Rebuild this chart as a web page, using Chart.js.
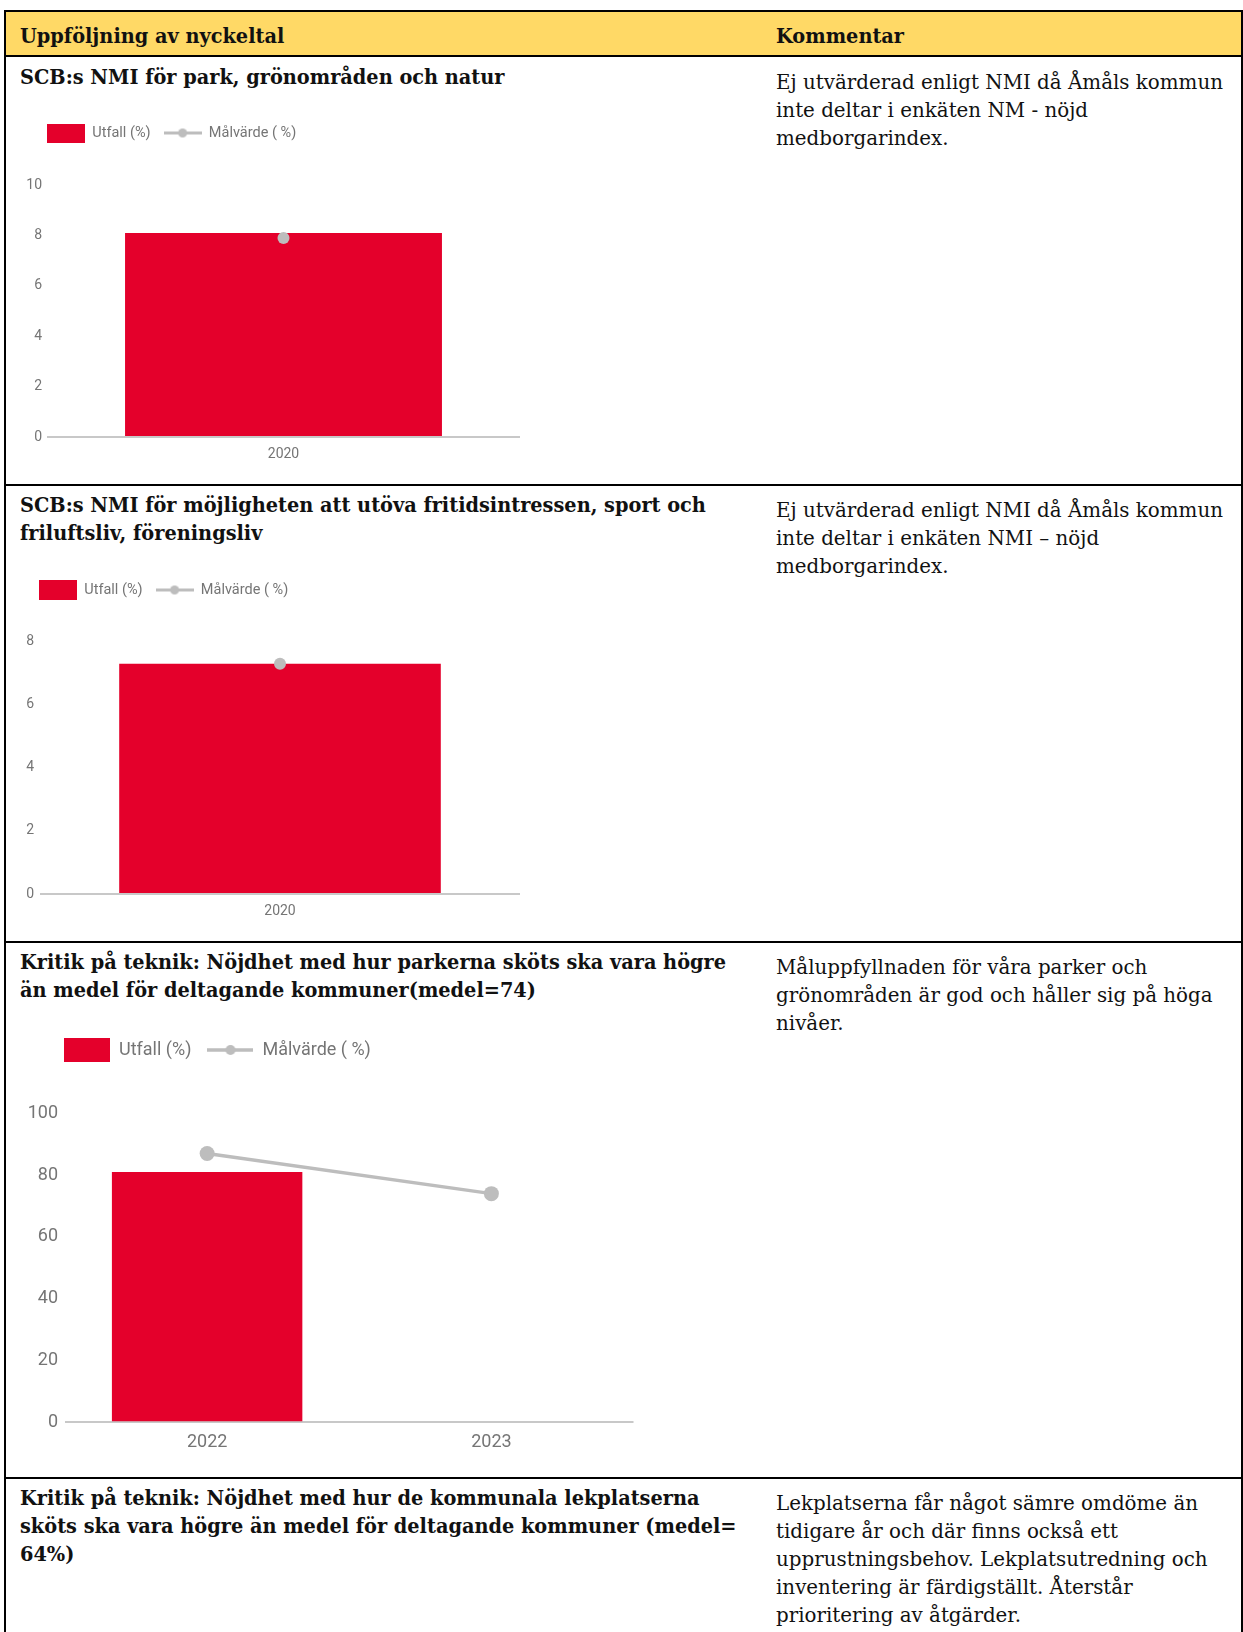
<!DOCTYPE html>
<html lang="sv">
<head>
<meta charset="utf-8">
<title>Uppföljning av nyckeltal</title>
<script src="https://cdn.jsdelivr.net/npm/chart.js@4.4.1/dist/chart.umd.min.js"></script>
<style>
  html, body { margin: 0; padding: 0; background: #fff; }
  body { width: 1243px; height: 1632px; position: relative; overflow: hidden; font-family: "DejaVu Serif", serif; color: #111; }
  .rule { position: absolute; background: #000; }
  .head { position: absolute; left: 6px; top: 12px; width: 1235px; height: 43px; background: #ffd966; }
  .txt { position: absolute; white-space: nowrap; font-size: 20px; line-height: 28.1px; transform-origin: 0 0; }
  .b { font-weight: bold; }
  canvas { position: absolute; }
</style>
</head>
<body>
<div class="head"></div>
<div class="rule" style="left:4px;top:10px;width:1239px;height:2px"></div>
<div class="rule" style="left:4px;top:10px;width:2px;height:1622px"></div>
<div class="rule" style="left:1241px;top:10px;width:2px;height:1622px"></div>
<div class="rule" style="left:4px;top:55px;width:1239px;height:2px"></div>
<div class="rule" style="left:4px;top:484px;width:1239px;height:2px"></div>
<div class="rule" style="left:4px;top:941px;width:1239px;height:2px"></div>
<div class="rule" style="left:4px;top:1477px;width:1239px;height:2px"></div>

<div class="txt b" style="left:20px;top:21.5px">Uppföljning av nyckeltal</div>
<div class="txt b" style="left:776px;top:21.5px">Kommentar</div>

<div class="txt b" style="left:20px;top:63px">SCB:s NMI för park, grönområden och natur</div>
<div class="txt r" style="left:776px;top:68px">Ej utvärderad enligt NMI då Åmåls kommun<br>inte deltar i enkäten NM - nöjd<br>medborgarindex.</div>

<div class="txt b" style="left:20px;top:491px">SCB:s NMI för möjligheten att utöva fritidsintressen, sport och<br>friluftsliv, föreningsliv</div>
<div class="txt r" style="left:776px;top:496px">Ej utvärderad enligt NMI då Åmåls kommun<br>inte deltar i enkäten NMI – nöjd<br>medborgarindex.</div>

<div class="txt b" style="left:20px;top:948px">Kritik på teknik: Nöjdhet med hur parkerna sköts ska vara högre<br>än medel för deltagande kommuner(medel=74)</div>
<div class="txt r" style="left:776px;top:953px">Måluppfyllnaden för våra parker och<br>grönområden är god och håller sig på höga<br>nivåer.</div>

<div class="txt b" style="left:20px;top:1484px">Kritik på teknik: Nöjdhet med hur de kommunala lekplatserna<br>sköts ska vara högre än medel för deltagande kommuner (medel=<br>64%)</div>
<div class="txt r" style="left:776px;top:1489px">Lekplatserna får något sämre omdöme än<br>tidigare år och där finns också ett<br>upprustningsbehov. Lekplatsutredning och<br>inventering är färdigställt. Återstår<br>prioritering av åtgärder.</div>

<canvas id="chart1"></canvas>
<canvas id="chart2"></canvas>
<canvas id="chart3"></canvas>

<script>
// data
const seriesNames = ['Utfall (%)', 'Målvärde ( %)'];

const years1 = ['2020'];
const utfall1 = [8.1];
const malvarde1 = [7.9];
const yTicks1 = [0, 2, 4, 6, 8, 10];

const years2 = ['2020'];
const utfall2 = [7.3];
const malvarde2 = [7.3];
const yTicks2 = [0, 2, 4, 6, 8];

const years3 = ['2022', '2023'];
const utfall3 = [81, null];
const malvarde3 = [87, 74];
const yTicks3 = [0, 20, 40, 60, 80, 100];

const RED = '#e4002b';
const GREY = '#bdbdbd';
const AXIS_TEXT = '#757575';

// squeeze the serif text to the widths of the reference lines
function fitText(selector, sample, target) {
  const el = document.querySelector(selector);
  const cs = getComputedStyle(el);
  const g = document.createElement('canvas').getContext('2d');
  g.font = cs.fontWeight + ' ' + cs.fontSize + ' ' + cs.fontFamily;
  const k = target / g.measureText(sample).width;
  document.querySelectorAll(selector).forEach(e => { e.style.transform = 'scaleX(' + k + ')'; });
}
fitText('.txt.b', 'Kritik på teknik: Nöjdhet med hur parkerna sköts ska vara högre', 706);
fitText('.txt.r', 'Ej utvärderad enligt NMI då Åmåls kommun', 447);

// legend icons: red box and grey line with a dot
function boxIcon(w, h) {
  const c = document.createElement('canvas');
  c.width = w; c.height = h;
  const g = c.getContext('2d');
  g.fillStyle = RED;
  g.fillRect(0, 0, w, h);
  return c;
}

function lineIcon(w, r, lw) {
  const c = document.createElement('canvas');
  c.width = w; c.height = Math.ceil(r * 2 + 2);
  const g = c.getContext('2d');
  const mid = c.height / 2;
  g.strokeStyle = GREY;
  g.lineWidth = lw;
  g.beginPath();
  g.moveTo(0, mid);
  g.lineTo(w, mid);
  g.stroke();
  g.fillStyle = GREY;
  g.beginPath();
  g.arc(w / 2, mid, r, 0, Math.PI * 2);
  g.fill();
  return c;
}

function makeChart(id, cats, bars, targets, ticks, lay) {
  const canvas = document.getElementById(id);
  canvas.width = lay.w;
  canvas.height = lay.h;
  canvas.style.left = lay.x + 'px';
  canvas.style.top = lay.y + 'px';

  const icons = [boxIcon(lay.box[0], lay.box[1]), lineIcon(lay.box[0], lay.dot, lay.iconLine)];
  const tickFont = { family: 'Roboto', size: lay.tickFont };

  return new Chart(canvas, {
    type: 'bar',
    data: {
      labels: cats,
      datasets: [
        {
          label: seriesNames[0],
          data: bars,
          backgroundColor: RED,
          borderWidth: 0,
          barPercentage: 0.67,
          categoryPercentage: 1,
          order: 1
        },
        {
          type: 'line',
          label: seriesNames[1],
          data: targets,
          borderColor: GREY,
          backgroundColor: GREY,
          borderWidth: lay.line,
          pointRadius: lay.point,
          pointBorderWidth: 0,
          pointBackgroundColor: GREY,
          tension: 0,
          order: 0
        }
      ]
    },
    options: {
      responsive: false,
      animation: false,
      events: [],
      layout: { padding: lay.pad },
      plugins: {
        tooltip: { enabled: false },
        legend: {
          position: 'top',
          align: 'start',
          labels: {
            usePointStyle: true,
            pointStyleWidth: lay.box[0],
            padding: lay.gap,
            color: AXIS_TEXT,
            font: { family: 'Roboto', size: lay.legendFont },
            sort: (a, b) => a.datasetIndex - b.datasetIndex,
            generateLabels(chart) {
              const items = Chart.defaults.plugins.legend.labels.generateLabels(chart);
              items.forEach(it => { it.pointStyle = icons[it.datasetIndex]; });
              return items;
            }
          }
        }
      },
      scales: {
        x: {
          grid: { display: false, drawTicks: false },
          border: { display: false },
          ticks: { color: AXIS_TEXT, font: tickFont, padding: lay.xPad },
          afterFit(s) { s.height = lay.xH; }
        },
        y: {
          min: ticks[0],
          max: ticks[ticks.length - 1],
          grid: {
            drawTicks: false,
            lineWidth: 2,
            color: c => (c.tick && c.tick.value === 0 ? '#c8c8c8' : 'rgba(0,0,0,0)')
          },
          border: { display: false },
          ticks: { color: AXIS_TEXT, font: tickFont, padding: lay.yPad },
          afterBuildTicks(s) { s.ticks = ticks.map(v => ({ value: v })); },
          afterFit(s) { s.width = lay.yW; }
        }
      }
    },
    plugins: [{
      // fixed legend height and left edge, so the plot sits where the reference has it
      id: 'legendPlace',
      beforeInit(chart) {
        const fit = chart.legend.fit;
        chart.legend.fit = function () {
          fit.call(this);
          this.height = lay.legendH;
        };
      },
      afterLayout(chart) {
        const lg = chart.legend;
        const w = lg.right - lg.left;
        lg.left = lay.legendLeft;
        lg.right = lg.left + w;
      }
    }]
  });
}

makeChart('chart1', years1, utfall1, malvarde1, yTicks1, {
  x: 8, y: 100, w: 530, h: 370,
  pad: { left: 0, top: 12.75, right: 18, bottom: 0 },
  yW: 39, xH: 33, legendH: 72.25, legendLeft: 26, legendFont: 14.5, gap: 13, tickFont: 14,
  yPad: 5, xPad: 8.6, box: [38, 19], dot: 4.5, iconLine: 3, point: 6, line: 3
});

makeChart('chart2', years2, utfall2, malvarde2, yTicks2, {
  x: 8, y: 560, w: 530, h: 370,
  pad: { left: 0, top: 9.75, right: 18, bottom: 0 },
  yW: 32, xH: 36, legendH: 71.95, legendLeft: 18, legendFont: 14.5, gap: 13, tickFont: 14,
  yPad: 6, xPad: 8.6, box: [38, 20], dot: 4.5, iconLine: 3, point: 6, line: 3
});

makeChart('chart3', years3, utfall3, malvarde3, yTicks3, {
  x: 8, y: 1010, w: 640, h: 445,
  pad: { left: 0, top: 15, right: 14.5, bottom: 0 },
  yW: 57, xH: 32.7, legendH: 88.3, legendLeft: 40, legendFont: 18, gap: 16, tickFont: 18,
  yPad: 7, xPad: 8.9, box: [46, 24], dot: 5, iconLine: 3.5, point: 7.5, line: 3.5
});
</script>
</body>
</html>
